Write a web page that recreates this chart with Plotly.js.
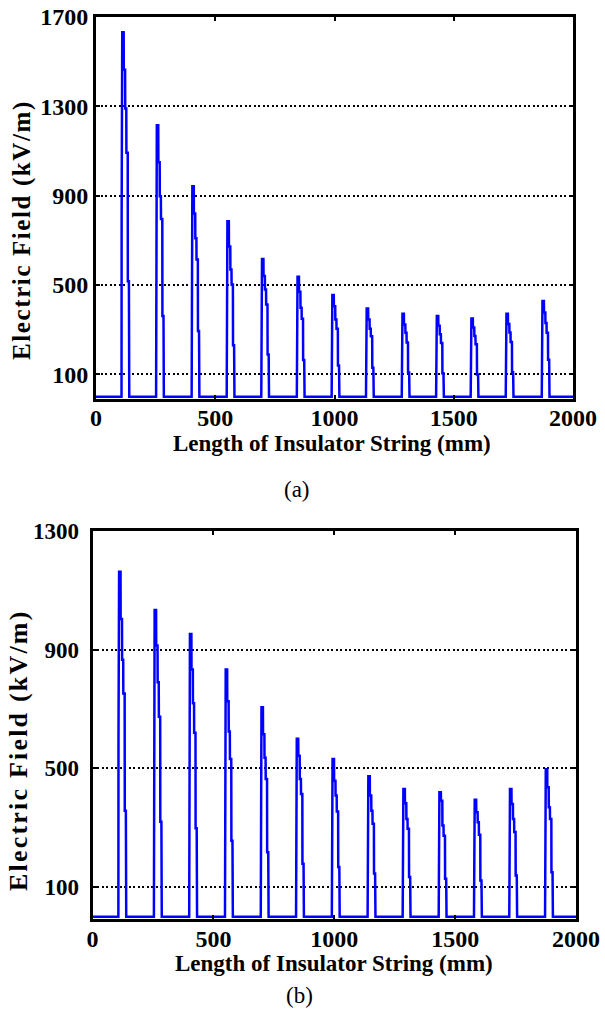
<!DOCTYPE html>
<html>
<head>
<meta charset="utf-8">
<script src="https://cdn.plot.ly/plotly-3.0.1.min.js"></script>
<style>html,body{margin:0;padding:0;background:#fff;}#chart{width:605px;height:1009px;}</style>
</head>
<body>
<div id="chart"></div>
<script>
// ---- Data ----
// Shape of one disc's field spike: offsets (mm) from the start of the spike
const profileOffsets = [0, 0.5, 3, 9, 9.5, 15, 15.5, 20, 20.5, 26, 26.5, 31, 32.5];

// (a)
const startA = [107, 252, 401, 548, 693, 842, 988, 1132, 1282, 1426, 1571, 1718, 1869];
const stepA  = [800, 500, 458, 355, 294, 237, 224, 182, 167, 159, 165, 170, 185];
const topA   = [1632, 1215, 942, 786, 617, 537, 455, 395, 371, 361, 350, 371, 428];
const l1A    = [1464, 1050, 820, 672, 540, 470, 405, 346, 323, 318, 310, 325, 377];
const l2A    = [1290, 898, 710, 570, 480, 398, 346, 304, 286, 280, 272, 287, 330];
const l3A    = [1092, 796, 614, 502, 413, 349, 304, 271, 243, 240, 235, 245, 286];
const l4A    = [517, 361, 294, 230, 189, 164, 140, 130, 108, 105, 100, 110, 165];

// (b)
const startB = [107, 254, 400, 548, 696, 842, 990, 1138, 1283, 1432, 1578, 1724, 1872];
const stepB  = [600, 450, 455, 374, 352, 276, 245, 234, 206, 201, 189, 223, 234];
const topB   = [1163, 1034, 953, 833, 706, 600, 531, 473, 430, 419, 394, 430, 497];
const l1B    = [1003, 914, 833, 726, 615, 542, 458, 408, 382, 391, 352, 380, 436];
const l2B    = [866, 790, 719, 624, 536, 464, 408, 357, 329, 307, 318, 329, 369];
const l3B    = [752, 674, 620, 531, 464, 413, 354, 313, 296, 273, 276, 285, 329];
const l4B    = [357, 320, 298, 256, 217, 178, 167, 145, 134, 128, 122, 139, 150];

const xTicks = [0, 500, 1000, 1500, 2000];
const yTicksA = [100, 500, 900, 1300, 1700];
const yTicksB = [100, 500, 900, 1300];
const stringLength = 2000;

function build(starts, step, top, l1, l2, l3, l4) {
  const x = [0], y = [0];
  for (let k = 0; k < starts.length; k++) {
    const lv = [0, step[k], top[k], top[k], l1[k], l1[k], l2[k], l2[k], l3[k], l3[k], l4[k], l4[k], 0];
    for (let i = 0; i < profileOffsets.length; i++) {
      x.push(starts[k] + profileOffsets[i]);
      y.push(lv[i]);
    }
  }
  x.push(stringLength); y.push(0);
  return {x, y};
}

const A = build(startA, stepA, topA, l1A, l2A, l3A, l4A);
const B = build(startB, stepB, topB, l1B, l2B, l3B, l4B);

const W = 605, H = 1009;
const FONT = 'Liberation Serif, Times New Roman, serif';
const px = v => v / W;
const py = v => 1 - v / H;

const lineStyle = {color: 'rgb(0,0,255)', width: 2.5};
const traces = [
  {x: A.x, y: A.y, type: 'scatter', mode: 'lines', line: lineStyle, xaxis: 'x', yaxis: 'y', hoverinfo: 'skip'},
  {x: B.x, y: B.y, type: 'scatter', mode: 'lines', line: lineStyle, xaxis: 'x2', yaxis: 'y2', hoverinfo: 'skip'}
];

function tf(s) { return {family: FONT, size: s, color: '#000', weight: 'bold'}; }
function xAxis(d, standoff) {
  return {domain: d, range: [0, 2000], tickvals: xTicks, ticks: 'inside', ticklen: 4, tickwidth: 2,
    tickcolor: '#000', showline: true, linewidth: 3, linecolor: '#000', mirror: 'ticks',
    showgrid: false, zeroline: false, tickfont: tf(24), ticklabelstandoff: standoff, fixedrange: true};
}
function yAxis(d, r, tv, anchor, standoff, fs) {
  return {domain: d, range: r, tickvals: tv, ticks: 'inside', ticklen: 4, tickwidth: 2, anchor: anchor,
    tickcolor: '#000', showline: true, linewidth: 3, linecolor: '#000', mirror: 'ticks',
    showgrid: true, gridcolor: '#000', gridwidth: 2, griddash: '2px,2.5px',
    zeroline: false, tickfont: tf(fs), ticklabelstandoff: standoff, fixedrange: true};
}

const yTitle = 'Electric Field (kV/m)';
const layout = {
  width: W, height: H,
  margin: {l: 0, r: 0, t: 0, b: 0},
  paper_bgcolor: '#fff', plot_bgcolor: '#fff',
  showlegend: false,
  xaxis: Object.assign(xAxis([px(96), px(573)], -4), {anchor: 'y'}),
  yaxis: yAxis([py(398.5), py(17)], [-8, 1700], yTicksA, 'x', 0, 24),
  xaxis2: Object.assign(xAxis([px(92.5), px(576)], -4), {anchor: 'y2'}),
  yaxis2: yAxis([py(919), py(531)], [-8, 1300], yTicksB, 'x2', 6, 23),
  annotations: [
    {text: '<span style="letter-spacing:1.6px">' + yTitle + '</span>', textangle: -90, x: px(22), y: py(230), xref: 'paper', yref: 'paper',
      xanchor: 'center', yanchor: 'middle', showarrow: false, font: tf(25)},
    {text: 'Length of Insulator String (mm)', x: px(332), y: py(443), xref: 'paper', yref: 'paper',
      xanchor: 'center', yanchor: 'middle', showarrow: false, font: tf(23)},
    {text: '(a)', x: px(297), y: py(489), xref: 'paper', yref: 'paper',
      xanchor: 'center', yanchor: 'middle', showarrow: false, font: {family: FONT, size: 23, color: '#000'}},
    {text: '<span style="letter-spacing:2.2px">' + yTitle + '</span>', textangle: -90, x: px(18), y: py(750), xref: 'paper', yref: 'paper',
      xanchor: 'center', yanchor: 'middle', showarrow: false, font: tf(26)},
    {text: 'Length of Insulator String (mm)', x: px(333.5), y: py(963), xref: 'paper', yref: 'paper',
      xanchor: 'center', yanchor: 'middle', showarrow: false, font: tf(23)},
    {text: '(b)', x: px(299), y: py(995), xref: 'paper', yref: 'paper',
      xanchor: 'center', yanchor: 'middle', showarrow: false, font: {family: FONT, size: 23, color: '#000'}}
  ]
};

Plotly.newPlot('chart', traces, layout, {staticPlot: true, displayModeBar: false});
</script>
</body>
</html>
